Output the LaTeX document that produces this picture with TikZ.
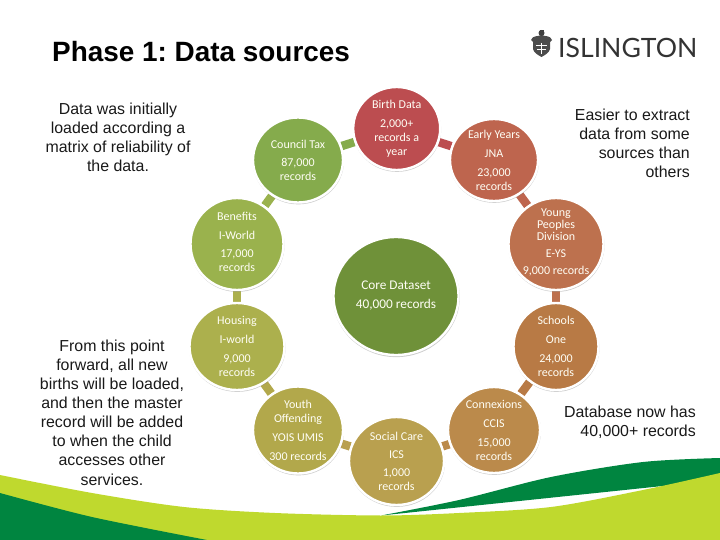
\documentclass[tikz,border=0pt]{standalone}
\usepackage{fontspec}
\setmainfont{Liberation Sans}
\newfontfamily\bubblefont{Carlito}
\newfontfamily\logofont{Lato}
\usetikzlibrary{shapes.geometric,shadows,backgrounds}
\definecolor{swooshdark}{HTML}{008540}
\definecolor{swooshlight}{HTML}{BFD92E}
\definecolor{cbirth}{RGB}{188,77,80}
\definecolor{cearly}{RGB}{190,101,78}
\definecolor{cyoung}{RGB}{189,113,78}
\definecolor{cschools}{RGB}{184,122,69}
\definecolor{cconnexions}{RGB}{187,138,75}
\definecolor{csocial}{RGB}{185,160,79}
\definecolor{cyouth}{RGB}{178,168,75}
\definecolor{chousing}{RGB}{172,176,77}
\definecolor{cbenefits}{RGB}{154,178,77}
\definecolor{ccouncil}{RGB}{133,171,76}
\definecolor{ccore}{RGB}{111,145,57}
\tikzset{
  bubble/.style={ellipse,draw=white,line width=2.4pt,fill=#1,minimum width=90pt,minimum height=86pt,inner sep=0pt,
    drop shadow={shadow xshift=0.3pt,shadow yshift=-1.2pt,shadow scale=1.015,opacity=0.4}},
  bubbletext/.style={text=white!96!yellow,align=center,font=\bubblefont\fontsize{12}{14}\selectfont},
  link/.style={line width=8.5pt,#1},
  bodytext/.style={align=center,inner sep=0pt,text=black!90,font=\fontsize{15.9}{19.1}\selectfont}
}
\begin{document}
\frenchspacing
\begin{tikzpicture}[x=1pt,y=-1pt]
        \useasboundingbox (0,0) rectangle (720,540);
        % Swoosh
        \fill[swooshdark] plot[smooth] coordinates {(381,515.5) (459,500) (551,477) (643,462) (720,458)} -- (720,480) -- cycle;
        \fill[swooshlight] plot[smooth] coordinates {(0,475) (92,493) (184,507) (275,513) (381,515.5) (459,513) (551,507) (643,490) (720,473)} -- (720,540) -- (0,540) -- cycle;
        \fill[swooshdark] plot[smooth] coordinates {(0,493) (92,517) (207,540)} -- (0,540) -- cycle;
        % Title and logo
        \node[anchor=west,inner sep=0pt,font=\fontsize{27.9}{30}\selectfont\bfseries] (title) at (52,52) {Phase 1: Data sources};
        \node[anchor=west,inner sep=0pt,text=black!80,font=\logofont\fontsize{26.6}{28}\selectfont] (logo) at (558,47.5) {ISLINGTON};
        \fill[black!70] (533,41) -- (550,41) -- (550,49) .. controls (549,53) and (545,55) .. (541.5,57) .. controls (538,55) and (534,53) .. (533,49) -- cycle;
        \fill[black!70] (531,40) .. controls (533,35) and (537,37) .. (541.5,35) .. controls (546,37) and (550,35) .. (552,40) -- (549,43) -- (534,43) -- cycle;
        \fill[black!75] (541.5,33) circle (3pt);
        \fill[black!75] (539.5,30) rectangle (543.5,32);
        \draw[white,line width=0.8pt] (536,45) -- (547,45) (537,49) -- (546,49) (541.5,43) -- (541.5,54);
        % Text blocks
        \node[bodytext] (noteload) at (118,137) {Data was initially\\loaded according a\\matrix of reliability of\\the data.};
        \node[bodytext] (notebirth) at (112,412.5) {From this point\\forward, all new\\births will be loaded,\\and then the master\\record will be added\\to when the child\\accesses other\\services.};
        \node[bodytext,align=right,anchor=north east] (noteeasy) at (690,108.5) {Easier to extract\\data from some\\sources than\\others};
        \node[bodytext,align=right,anchor=north east] (notenow) at (696,406) {Database now has\\40,000+ records};
        % Ring of sources
        \node[bubble=cbirth,minimum width=87pt,minimum height=83pt,label={[bubbletext]center:Birth Data\\[5pt]2,000+\\records a\\year}] (birth) at (396.7,128.5) {};
        \node[bubble=cearly,minimum width=88pt,minimum height=82pt,label={[bubbletext]center:Early Years\\[5pt]JNA\\[5pt]23,000\\records}] (early) at (494,160) {};
        \node[bubble=cyoung,minimum width=95pt,minimum height=92pt,label={[bubbletext,yshift=2pt]center:Young\\[-2pt]Peoples\\[-2pt]Division\\[3pt]E-YS\\[3pt]9,000 records}] (young) at (556,244) {};
        \node[bubble=cschools,minimum width=85pt,minimum height=87pt,label={[bubbletext]center:Schools\\[5pt]One\\[5pt]24,000\\records}] (schools) at (556,346.5) {};
        \node[bubble=cconnexions,minimum width=92pt,minimum height=86pt,label={[bubbletext]center:Connexions\\[5pt]CCIS\\[5pt]15,000\\records}] (connexions) at (494,430) {};
        \node[bubble=csocial,minimum width=95pt,minimum height=88pt,label={[bubbletext]center:Social Care\\[4pt]ICS\\[4pt]1,000\\records}] (social) at (396.5,461) {};
        \node[bubble=cyouth,minimum width=90pt,minimum height=87pt,label={[bubbletext]center:Youth\\Offending\\[5pt]YOIS UMIS\\[5pt]300 records}] (youth) at (298,430) {};
        \node[bubble=chousing,minimum width=95pt,minimum height=87pt,label={[bubbletext]center:Housing\\[5pt]I-world\\[5pt]9,000\\records}] (housing) at (237,346.5) {};
        \node[bubble=cbenefits,minimum width=93pt,minimum height=92pt,label={[bubbletext,yshift=2pt]center:Benefits\\[5pt]I-World\\[4pt]17,000\\records}] (benefits) at (237,244) {};
        \node[bubble=ccouncil,minimum width=90pt,minimum height=85pt,label={[bubbletext]center:Council Tax\\[4pt]87,000\\records}] (council) at (298,160) {};
        \node[bubble=ccore,minimum width=125pt,minimum height=118pt,label={[bubbletext,font=\bubblefont\fontsize{13.3}{15}\selectfont]center:Core Dataset\\[4pt]40,000 records}] (core) at (396,296) {};
        % Links behind the bubbles
        \begin{pgfonlayer}{background}
        \draw[link=ccouncil] (council) -- (birth);
        \draw[link=cbirth] (birth) -- (early);
        \draw[link=cearly] (early) -- (young);
        \draw[link=cyoung] (young) -- (schools);
        \draw[link=cschools] (schools) -- (connexions);
        \draw[link=cconnexions] (connexions) -- (social);
        \draw[link=csocial] (social) -- (youth);
        \draw[link=cyouth] (youth) -- (housing);
        \draw[link=chousing] (housing) -- (benefits);
        \draw[link=cbenefits] (benefits) -- (council);
        \end{pgfonlayer}
      \end{tikzpicture}
\end{document}
